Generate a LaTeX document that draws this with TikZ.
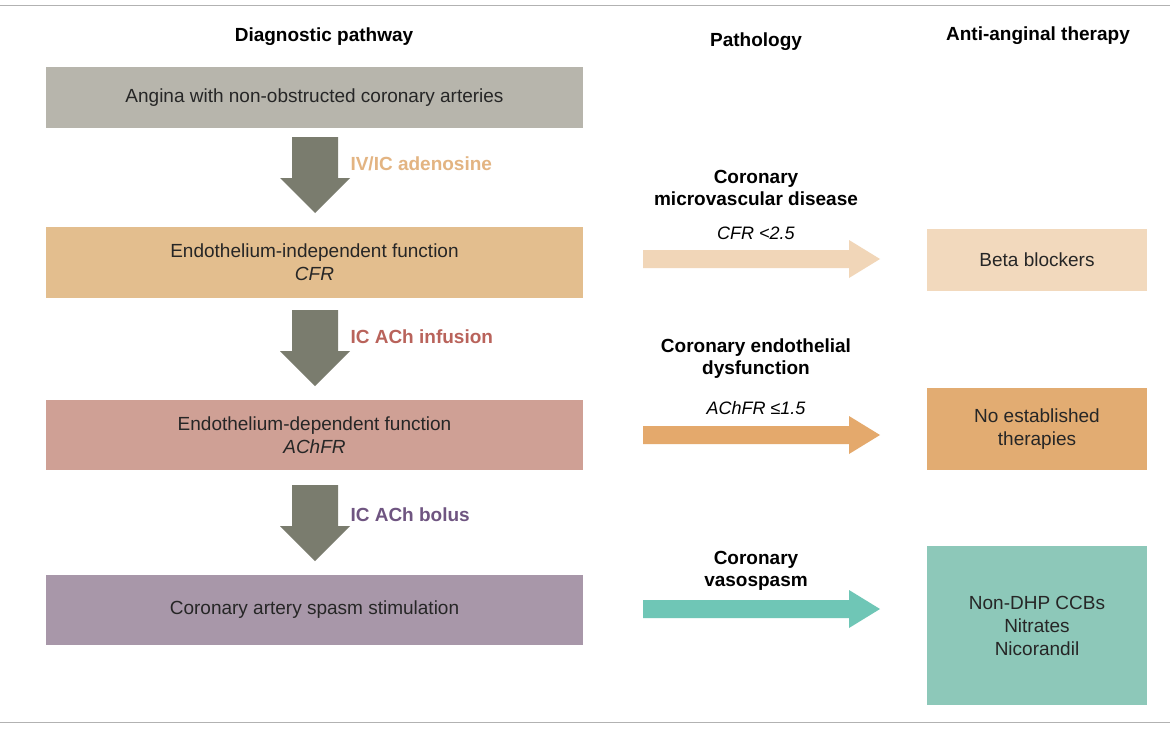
\documentclass[tikz,border=0pt]{standalone}
\usepackage{fontspec}
\setmainfont{Liberation Sans}
\begin{document}
\begin{tikzpicture}[x=1pt,y=-1pt,
 box/.style={draw=none,minimum width=537pt,minimum height=70pt,align=center,font=\fontsize{19}{23}\selectfont,inner sep=0,text=black!85},
 tbox/.style={draw=none,minimum width=220pt,align=center,font=\fontsize{19}{23}\selectfont,inner sep=0,text=black!85},
 hdr/.style={font=\fontsize{19}{22}\selectfont\bfseries},
 plab/.style={font=\fontsize{19}{22}\selectfont\bfseries,align=center},
 ilab/.style={font=\fontsize{18}{21}\selectfont\itshape},
 slab/.style={font=\fontsize{19}{22}\selectfont\bfseries,anchor=west}]
\definecolor{cg}{HTML}{B7B5AC}\definecolor{co}{HTML}{E3BE8E}
\definecolor{cp}{HTML}{CFA095}\definecolor{cv}{HTML}{A897A9}
\definecolor{ca}{HTML}{7A7C6E}
\definecolor{r1}{HTML}{F1D6B8}\definecolor{r2}{HTML}{E4A96C}\definecolor{r3}{HTML}{6FC6B6}
\definecolor{b1}{HTML}{F2D9BD}\definecolor{b2}{HTML}{E2AC72}\definecolor{b3}{HTML}{8DC8B9}
\definecolor{t1}{HTML}{E3B482}\definecolor{t2}{HTML}{B9635B}\definecolor{t3}{HTML}{6F5581}
\useasboundingbox[fill=white] (0,0) rectangle (1170,731);
\draw[gray!60,line width=1pt] (0,5) -- (1170,5);
\draw[gray!60,line width=1pt] (0,722) -- (1170,722);
\node[hdr] (h1) at (324,37) {Diagnostic pathway};
\node[hdr] (h2) at (756,42) {Pathology};
\node[hdr] (h3) at (1038,36) {Anti-anginal therapy};
\node[box,fill=cg,minimum height=61pt] (a) at (314.5,97.5) {Angina with non-obstructed coronary arteries};
\node[box,fill=co,minimum height=71pt] (b) at (314.5,262.5) {Endothelium-independent function\\\textit{CFR}};
\node[box,fill=cp] (c) at (314.5,435) {Endothelium-dependent function\\\textit{AChFR}};
\node[box,fill=cv] (d) at (314.5,610) {Coronary artery spasm stimulation};
\foreach \t in {137,310,485}{
 \fill[ca] (292,\t) -- (338,\t) -- (338,\t+41) -- (350,\t+41) -- (315,\t+76) -- (280,\t+41) -- (292,\t+41) -- cycle;}
\node[slab,text=t1] (l1) at (347,164) {IV/IC adenosine};
\node[slab,text=t2] (l2) at (347,337) {IC ACh infusion};
\node[slab,text=t3] (l3) at (347,515) {IC ACh bolus};
\foreach \y/\c in {259/r1,435/r2,609/r3}{
 \fill[\c] (643,\y-9) -- (849,\y-9) -- (849,\y-19) -- (880,\y) -- (849,\y+19) -- (849,\y+9) -- (643,\y+9) -- cycle;}
\node[plab] (p1) at (756,188) {Coronary\\microvascular disease};
\node[ilab] (i1) at (756,233) {CFR <2.5};
\node[plab] (p2) at (756,359) {Coronary endothelial\\dysfunction};
\node[ilab] (i2) at (756,408) {AChFR ≤1.5};
\node[plab] (p3) at (756,571) {Coronary\\vasospasm};
\node[tbox,fill=b1,minimum height=62pt] (t1) at (1037,260) {Beta blockers};
\node[tbox,fill=b2,minimum height=82pt] (t2) at (1037,429) {No established\\therapies};
\node[tbox,fill=b3,minimum height=159pt] (t3) at (1037,625.5) {Non-DHP CCBs\\Nitrates\\Nicorandil};
\end{tikzpicture}
\end{document}
